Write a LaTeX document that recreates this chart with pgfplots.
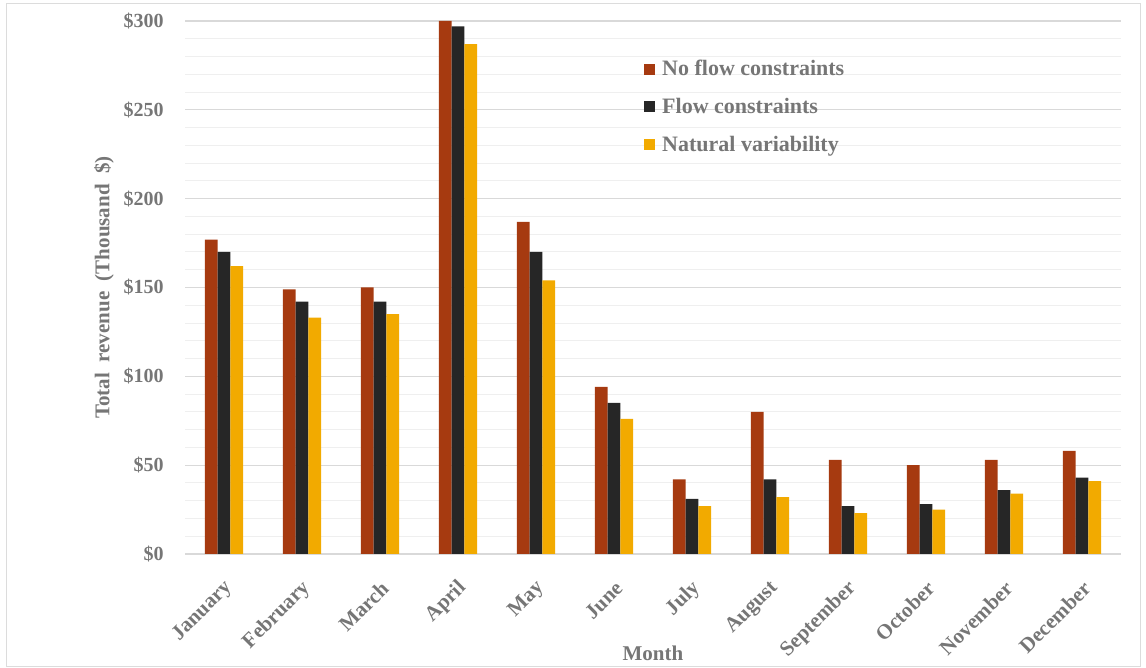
\documentclass[border=0pt]{standalone}
\usepackage{pgfplots}
\pgfplotsset{compat=1.18}
\usepackage{fontspec}
\setmainfont{Liberation Serif}

\definecolor{rust}{HTML}{A63A10}
\definecolor{charcoal}{HTML}{262626}
\definecolor{amber}{HTML}{F2AA00}
\definecolor{txtgray}{HTML}{767676}
\definecolor{majgrid}{HTML}{D9D9D9}
\definecolor{mingrid}{HTML}{EFEFEF}
\definecolor{frame}{HTML}{DCDCDC}

\begin{document}
\begin{tikzpicture}
\useasboundingbox (0,0) rectangle (1146pt,668pt);
\draw[frame, line width=1pt] (6pt,1.5pt) rectangle (1140pt,664pt);
\begin{axis}[
  at={(185pt,114pt)}, anchor=south west,
  scale only axis,
  width=936pt, height=533pt,
  xmin=-0.5, xmax=11.5,
  ymin=0, ymax=300,
  ybar=0pt, bar width=12.8pt,
  axis x line=bottom, axis y line=left,
  axis line style={draw=none},
  tick style={draw=none},
  xtick={0,...,11},
  xticklabels={January,February,March,April,May,June,July,August,September,October,November,December},
  ytick={0,50,...,300},
  yticklabels={\$0,\$50,\$100,\$150,\$200,\$250,\$300},
  minor y tick num=4,
  ymajorgrids, yminorgrids,
  major grid style={majgrid, line width=1.2pt},
  minor grid style={mingrid, line width=1pt},
  every tick label/.append style={font=\fontsize{20}{24}\selectfont\bfseries, text=txtgray},
  yticklabel style={anchor=east, inner sep=0pt, xshift=-19pt},
  xticklabel style={xshift=5pt, yshift=-29pt, rotate=45, anchor=east, inner sep=0pt,
    font=\fontsize{21}{24}\selectfont\bfseries},
  xlabel={Month}, ylabel={Total\ \ revenue\ \ (Thousand\ \ \$)},
  xlabel style={at={(axis description cs:0.5,-0.1857)}, anchor=center, font=\fontsize{21}{24}\selectfont\bfseries, text=txtgray},
  ylabel style={at={(axis description cs:-0.0865,0.5)}, anchor=center, font=\fontsize{21}{24}\selectfont\bfseries, text=txtgray},
  legend style={at={(axis description cs:0.4904,0.93)}, anchor=north west, draw=none, fill=none,
    font=\fontsize{22}{26}\selectfont\bfseries, text=txtgray, row sep=17pt,
    inner sep=0pt},
  legend cell align=left,
  legend image code/.code={\fill[#1] (0pt,-5.5pt) rectangle (11pt,5.5pt); \path (16pt,0pt);},
]
% Revenue with unconstrained flows
\addplot[fill=rust, draw=none] coordinates {
  (0,177) (1,149) (2,150) (3,300) (4,187) (5,94)
  (6,42) (7,80) (8,53) (9,50) (10,53) (11,58)};
% Revenue under flow constraints
\addplot[fill=charcoal, draw=none] coordinates {
  (0,170) (1,142) (2,142) (3,297) (4,170) (5,85)
  (6,31) (7,42) (8,27) (9,28) (10,36) (11,43)};
% Revenue under natural variability
\addplot[fill=amber, draw=none] coordinates {
  (0,162) (1,133) (2,135) (3,287) (4,154) (5,76)
  (6,27) (7,32) (8,23) (9,25) (10,34) (11,41)};
\legend{No flow constraints, Flow constraints, Natural variability}
\end{axis}
\end{tikzpicture}
\end{document}
